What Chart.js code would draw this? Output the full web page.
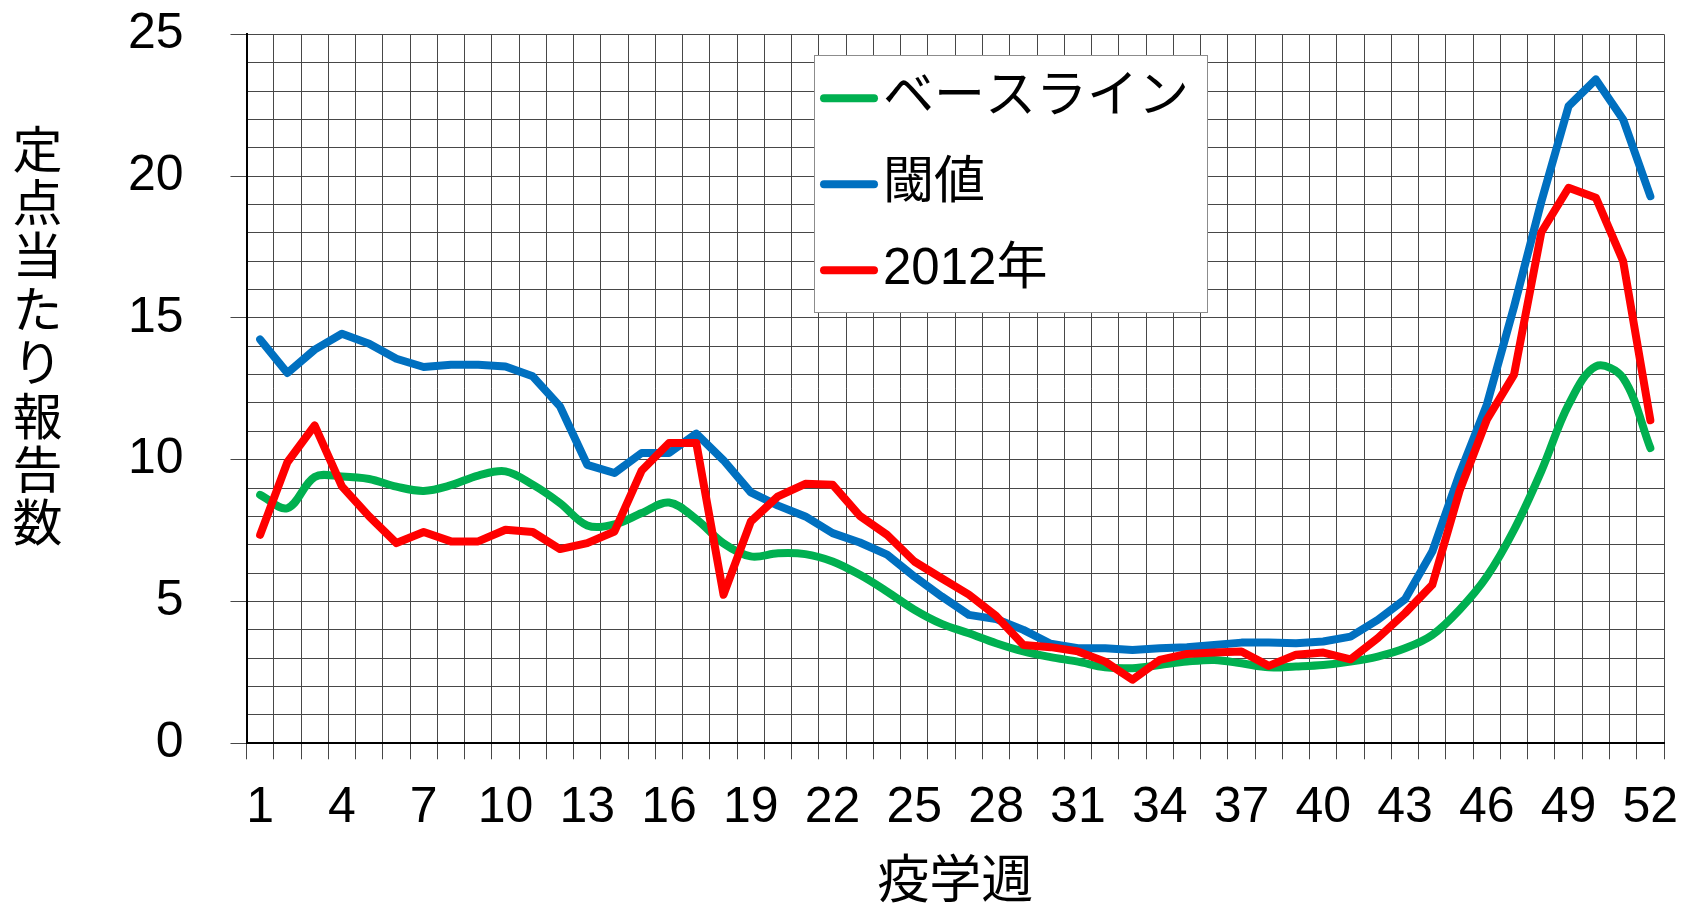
<!DOCTYPE html>
<html>
<head>
<meta charset="utf-8">
<script src="https://cdn.jsdelivr.net/npm/chart.js@4.4.1/dist/chart.umd.min.js"></script>
<style>
html,body{margin:0;padding:0;background:#fff;}
#wrap{width:1686px;height:904px;position:relative;}
</style>
</head>
<body>
<div id="wrap"><canvas id="c" width="1686" height="904"></canvas></div>
<script>
// ---- data ----
const weeks = ['1','2','3','4','5','6','7','8','9','10','11','12','13','14','15','16','17','18','19','20','21','22','23','24','25','26','27','28','29','30','31','32','33','34','35','36','37','38','39','40','41','42','43','44','45','46','47','48','49','50','51','52'];
const baseline = [8.76,8.29,9.39,9.41,9.32,9.05,8.9,9.1,9.44,9.59,9.12,8.47,7.68,7.72,8.12,8.49,7.9,7.05,6.59,6.7,6.67,6.41,5.94,5.35,4.71,4.21,3.88,3.53,3.24,3.04,2.88,2.68,2.65,2.76,2.88,2.94,2.82,2.68,2.71,2.76,2.88,3.06,3.35,3.82,4.71,5.88,7.53,9.6,11.94,13.29,12.88,10.41];
const threshold = [14.24,13.06,13.88,14.44,14.09,13.56,13.27,13.35,13.35,13.29,12.94,11.88,9.82,9.53,10.24,10.24,10.92,9.98,8.85,8.38,8.0,7.41,7.08,6.65,5.88,5.18,4.53,4.38,4.0,3.51,3.35,3.35,3.29,3.35,3.39,3.47,3.55,3.55,3.53,3.59,3.76,4.35,5.08,6.76,9.5,11.94,15.4,19.1,22.47,23.41,22.0,19.29];
const y2012 = [7.35,9.91,11.21,9.06,8.0,7.06,7.45,7.12,7.12,7.53,7.45,6.85,7.06,7.47,9.62,10.59,10.59,5.24,7.82,8.71,9.15,9.12,8.02,7.35,6.41,5.82,5.24,4.49,3.47,3.39,3.24,2.88,2.24,2.94,3.15,3.2,3.24,2.73,3.12,3.2,2.96,3.71,4.59,5.59,8.9,11.41,13.0,18.02,19.59,19.24,17.0,11.39];
const seriesNames = ['ベースライン','閾値','2012年'];
const yMin = 0, yMax = 25, yStep = 1, yLabelEvery = 5, xLabelEvery = 3;
const yTitle = '定点当たり報告数';
const xTitle = '疫学週';

// ---- style ----
const FONT = "'Liberation Sans', Arial, 'Noto Sans CJK JP', sans-serif";
const CJK = "'Noto Sans CJK JP', 'Liberation Sans', sans-serif";
const gridColor = '#474747';

const yTitlePlugin = {
  id: 'yTitleStack',
  afterDraw(chart) {
    const ctx = chart.ctx;
    ctx.save();
    ctx.fillStyle = '#000';
    ctx.font = '50px ' + CJK;
    ctx.textAlign = 'center';
    ctx.textBaseline = 'middle';
    const chars = Array.from(yTitle);
    chars.forEach((ch, i) => ctx.fillText(ch, 37.5, 148.5 + i * 53.4));
    ctx.restore();
  }
};

const boxLegend = {
  id: 'boxLegend',
  afterDatasetsDraw(chart) {
    const ctx = chart.ctx;
    const x0 = 814.5, y0 = 55.5, w = 393, h = 257;
    ctx.save();
    ctx.fillStyle = '#fff';
    ctx.fillRect(x0, y0, w, h);
    ctx.strokeStyle = '#8c8c8c';
    ctx.lineWidth = 1;
    ctx.strokeRect(x0, y0, w, h);
    chart.data.datasets.forEach((ds, i) => {
      const cy = 98.3 + i * 86;
      ctx.strokeStyle = ds.borderColor;
      ctx.lineWidth = 8;
      ctx.lineCap = 'round';
      ctx.beginPath();
      ctx.moveTo(824, cy);
      ctx.lineTo(874, cy);
      ctx.stroke();
      ctx.fillStyle = '#000';
      ctx.font = '51px ' + FONT;
      ctx.textAlign = 'left';
      ctx.textBaseline = 'middle';
      ctx.fillText(ds.label, 883, cy);
    });
    ctx.restore();
  }
};

function zeroPad(s) { s.paddingTop = 0; s.paddingBottom = 0; s.paddingLeft = 0; s.paddingRight = 0; }

const ctx = document.getElementById('c').getContext('2d');
new Chart(ctx, {
  type: 'line',
  data: {
    labels: weeks,
    datasets: [
      {label: seriesNames[0], data: baseline, borderColor: '#00B050', borderWidth: 8, pointRadius: 0, tension: 0.35, order: 3, borderCapStyle: 'round', borderJoinStyle: 'round', fill: false},
      {label: seriesNames[1], data: threshold, borderColor: '#0070C0', borderWidth: 8, pointRadius: 0, tension: 0, order: 2, borderCapStyle: 'round', borderJoinStyle: 'round', fill: false},
      {label: seriesNames[2], data: y2012, borderColor: '#FF0000', borderWidth: 8, pointRadius: 0, tension: 0, order: 1, borderCapStyle: 'round', borderJoinStyle: 'round', fill: false}
    ]
  },
  options: {
    responsive: false,
    animation: false,
    devicePixelRatio: 1,
    layout: {padding: {left: 0, right: 22, top: 34.3, bottom: 0}},
    plugins: {legend: {display: false}, tooltip: {enabled: false}},
    scales: {
      x: {
        type: 'category',
        offset: true,
        grid: {offset: true, color: gridColor, lineWidth: 1, tickLength: 16, tickColor: gridColor},
        border: {color: '#000', width: 2},
        ticks: {
          autoSkip: false, maxRotation: 0, minRotation: 0, padding: 24,
          color: '#000', font: {family: FONT, size: 50, lineHeight: 1},
          callback: function(v, i) { return i % xLabelEvery === 0 ? weeks[i] : ''; }
        },
        title: {display: true, text: xTitle, color: '#000', font: {family: CJK, size: 52, lineHeight: 1}, padding: {top: 0, bottom: 0}},
        afterFit: function(s) { s.height = 904 - 743.3; zeroPad(s); }
      },
      y: {
        min: yMin, max: yMax,
        grid: {color: gridColor, lineWidth: 1, tickLength: 16,
          tickColor: (c) => (c.tick && c.tick.value % yLabelEvery === 0) ? gridColor : 'rgba(0,0,0,0)'},
        border: {color: '#000', width: 2},
        ticks: {
          stepSize: yStep, autoSkip: false, padding: 47, color: '#000',
          font: {family: FONT, size: 50, lineHeight: 1},
          callback: function(v) { return v % yLabelEvery === 0 ? String(v) : ''; }
        },
        afterFit: function(s) { s.width = 246.5; zeroPad(s); }
      }
    }
  },
  plugins: [boxLegend, yTitlePlugin]
});
</script>
</body>
</html>
